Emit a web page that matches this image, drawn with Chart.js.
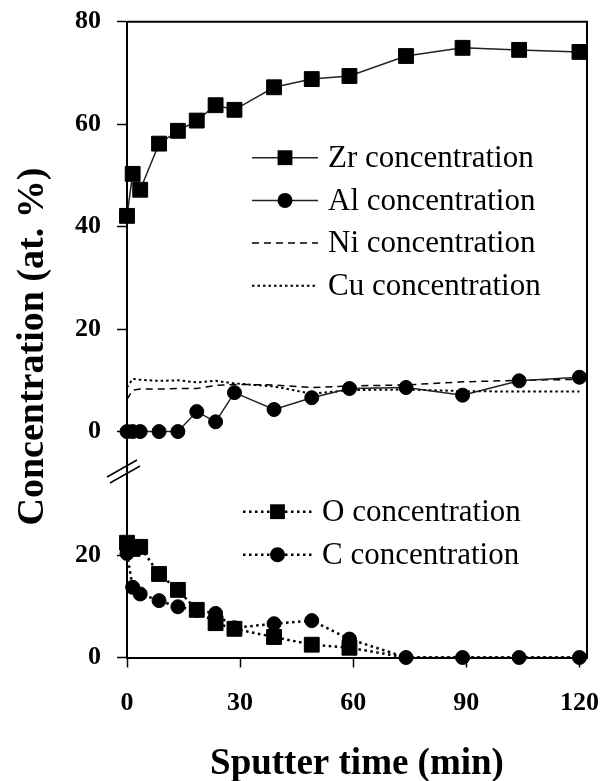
<!DOCTYPE html>
<html>
<head>
<meta charset="utf-8">
<script src="https://cdn.jsdelivr.net/npm/chart.js@4"></script>
<style>
  html, body { margin: 0; padding: 0; background: #fff; }
  canvas { display: block; }
</style>
</head>
<body>
<canvas id="chart" width="606" height="781"></canvas>
<script>
// 溅射时间 (min)
const sputterTime = [0, 1.5, 3.5, 8.5, 13.5, 18.5, 23.5, 28.5, 39, 49, 59, 74, 89, 104, 120];

// 上半部分: 金属元素
const zrConc = [42.1, 50.3, 47.2, 56.2, 58.7, 60.7, 63.7, 62.8, 67.2, 68.8, 69.4, 73.3, 74.9, 74.5, 74.1];
const alConc = [0, 0, 0, 0, 0, 3.9, 1.9, 7.6, 4.3, 6.6, 8.4, 8.6, 7.1, 9.9, 10.6];
const niConc = [6.3, 8.1, 8.3, 8.3, 8.4, 8.4, 9.0, 9.2, 9.1, 8.6, 8.9, 9.1, 9.7, 10.0, 10.2];
const cuConc = [8.6, 10.3, 10.1, 9.9, 10.0, 9.6, 9.9, 9.4, 8.8, 7.4, 8.1, 8.2, 7.9, 7.8, 7.8];

// 下半部分: O 和 C
const oConc = [22.4, 21.2, 21.6, 16.3, 13.2, 9.3, 6.7, 5.6, 4.0, 2.5, 1.9, 0, 0, 0, 0];
const cConc = [20.3, 13.7, 12.4, 11.1, 9.9, 9.2, 8.6, 5.8, 6.6, 7.2, 3.6, 0, 0, 0, 0];

// 刻度
const xTicks = [0, 30, 60, 90, 120];
const upperTicks = [0, 20, 40, 60, 80];
const lowerTicks = [0, 20];

const SERIF = '"Liberation Serif", "Times New Roman", serif';
const SQ = 10.5; // 方块标记半径

function pts(values) {
  return values.map((v, i) => ({ x: sputterTime[i], y: v }));
}

function useTicks(list) {
  return scale => { scale.ticks = list.map(v => ({ value: v })); };
}

// 固定轴的尺寸, 去掉刻度标签带来的额外边距
function fixY(scale) {
  scale.width = 127;
  scale.paddingTop = 0;
  scale.paddingBottom = 0;
}
function fixX(scale) {
  scale.height = 123.5;
  scale.paddingLeft = 0;
  scale.paddingRight = 0;
}

// 图例位置 (相对于绘图区)
const legendGroups = [
  { labels: ['Zr concentration', 'Al concentration', 'Ni concentration', 'Cu concentration'], x0: 125, x1: 191, tx: 201, y: 136, gap: 42.7 },
  { labels: ['O concentration', 'C concentration'], x0: 116, x1: 185, tx: 195, y: 490, gap: 43 }
];

const decorPlugin = {
  id: 'decor',
  afterDraw(chart) {
    const ctx = chart.ctx;
    const a = chart.chartArea;
    ctx.save();

    // 上边框和右边框
    ctx.strokeStyle = '#000';
    ctx.lineWidth = 2;
    ctx.beginPath();
    ctx.moveTo(a.left, a.top);
    ctx.lineTo(a.right, a.top);
    ctx.lineTo(a.right, a.bottom);
    ctx.stroke();

    // 断轴标记
    const by = chart.scales.yTop.bottom;
    const L = a.left;
    ctx.lineWidth = 1.5;
    ctx.beginPath();
    ctx.moveTo(L - 20, by + 7); ctx.lineTo(L + 10, by - 10);
    ctx.moveTo(L - 17, by + 13); ctx.lineTo(L + 13, by - 4);
    ctx.stroke();

    // y 轴标题
    ctx.fillStyle = '#000';
    ctx.font = 'bold 38px ' + SERIF;
    ctx.textAlign = 'center';
    ctx.textBaseline = 'middle';
    ctx.translate(33, (a.top + a.bottom) / 2 + 7);
    ctx.rotate(-Math.PI / 2);
    ctx.fillText('Concentration (at. %)', 0, 0);
    ctx.setTransform(1, 0, 0, 1, 0, 0);

    // 图例
    ctx.font = '31px ' + SERIF;
    ctx.textAlign = 'left';
    legendGroups.forEach(g => {
      g.labels.forEach((label, i) => {
        const ds = chart.data.datasets.find(d => d.label === label);
        const y = a.top + g.y + i * g.gap;
        const x0 = a.left + g.x0, x1 = a.left + g.x1;
        ctx.strokeStyle = ds.borderColor;
        ctx.lineWidth = ds.borderWidth;
        ctx.setLineDash(ds.borderDash || []);
        ctx.beginPath();
        ctx.moveTo(x0, y); ctx.lineTo(x1, y);
        ctx.stroke();
        ctx.setLineDash([]);
        if (ds.pointStyle) {
          const cx = (x0 + x1) / 2;
          ctx.fillStyle = '#000';
          ctx.beginPath();
          if (ds.pointStyle === 'rect') {
            const s = SQ * Math.SQRT1_2;
            ctx.rect(cx - s, y - s, 2 * s, 2 * s);
          } else {
            ctx.arc(cx, y, 7.5, 0, Math.PI * 2);
          }
          ctx.fill();
        }
        ctx.fillStyle = '#000';
        ctx.fillText(label, a.left + g.tx, y + 1);
      });
    });
    ctx.restore();
  }
};

const lineBase = {
  borderColor: '#000',
  pointBackgroundColor: '#000',
  pointBorderColor: '#000',
  pointBorderWidth: 1,
  tension: 0,
  clip: false
};

const axisGrid = {
  drawOnChartArea: false,
  drawTicks: true,
  tickLength: 10,
  tickWidth: 1.5,
  tickColor: '#000'
};

const tickFont = { family: SERIF, size: 26, weight: 'bold' };

new Chart(document.getElementById('chart'), {
  type: 'line',
  data: {
    datasets: [
      { ...lineBase, label: 'Zr concentration', data: pts(zrConc), yAxisID: 'yTop',
        borderColor: '#222', borderWidth: 1.5, pointStyle: 'rect', pointRadius: SQ },
      { ...lineBase, label: 'Al concentration', data: pts(alConc), yAxisID: 'yTop',
        borderColor: '#222', borderWidth: 1.5, pointStyle: 'circle', pointRadius: 7 },
      { ...lineBase, label: 'Ni concentration', data: pts(niConc), yAxisID: 'yTop',
        borderWidth: 1.5, borderDash: [7, 5], pointRadius: 0 },
      { ...lineBase, label: 'Cu concentration', data: pts(cuConc), yAxisID: 'yTop',
        borderWidth: 2, borderDash: [2.5, 3], pointRadius: 0 },
      { ...lineBase, label: 'C concentration', data: pts(cConc), yAxisID: 'yBot',
        borderWidth: 2.5, borderDash: [2.5, 3.5], pointStyle: 'circle', pointRadius: 7 },
      // 方块在 0 处被圆点盖住
      { ...lineBase, label: 'O concentration', data: pts(oConc), yAxisID: 'yBot',
        borderWidth: 2.5, borderDash: [2.5, 3.5], pointStyle: 'rect',
        pointRadius: c => (c.raw && c.raw.y === 0 ? 0 : SQ) }
    ]
  },
  options: {
    responsive: false,
    animation: false,
    layout: { padding: { top: 21.7, right: 19, left: 0, bottom: 0 } },
    plugins: {
      legend: { display: false },
      tooltip: { enabled: false }
    },
    scales: {
      x: {
        type: 'linear',
        min: 0,
        max: 122,
        afterBuildTicks: useTicks(xTicks),
        afterFit: fixX,
        grid: axisGrid,
        border: { display: true, color: '#000', width: 2 },
        ticks: { font: tickFont, color: '#000', padding: 20, maxRotation: 0 },
        title: {
          display: true,
          text: 'Sputter time (min)',
          color: '#000',
          font: { family: SERIF, size: 37, weight: 'bold' },
          padding: { top: 0, bottom: -6 }
        }
      },
      yBot: {
        type: 'linear',
        position: 'left',
        stack: 'conc',
        stackWeight: 36.6,
        min: 0,
        max: 36.6,
        afterBuildTicks: useTicks(lowerTicks),
        afterFit: fixY,
        grid: axisGrid,
        border: { display: true, color: '#000', width: 2 },
        ticks: { font: tickFont, color: '#000', padding: 16 }
      },
      yTop: {
        type: 'linear',
        position: 'left',
        stack: 'conc',
        stackWeight: 87.5,
        min: -7.5,
        max: 80,
        afterBuildTicks: useTicks(upperTicks),
        afterFit: fixY,
        grid: axisGrid,
        border: { display: true, color: '#000', width: 2 },
        ticks: { font: tickFont, color: '#000', padding: 16 }
      }
    }
  },
  plugins: [decorPlugin]
});
</script>
</body>
</html>
